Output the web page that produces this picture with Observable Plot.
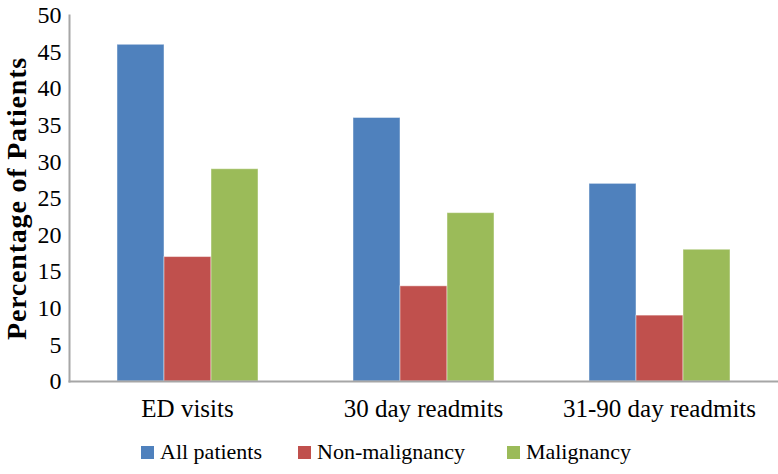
<!DOCTYPE html>
<html>
<head>
<meta charset="utf-8">
<script src="https://cdn.jsdelivr.net/npm/d3@7"></script>
<script src="https://cdn.jsdelivr.net/npm/@observablehq/plot@0.6"></script>
<style>
  html, body { margin: 0; padding: 0; background: #fff; }
  #chart { width: 778px; }
  .ylabel text { letter-spacing: 0.8px; }
  .legend { display: flex; justify-content: flex-start; align-items: center; height: 44px; font-family: "Liberation Serif", serif; font-size: 22px; color: #000; padding-left: 141px; }
  .legend .item { display: flex; align-items: center; }
  .legend .sw { width: 13px; height: 13px; margin-right: 6px; }
</style>
</head>
<body>
<div id="chart"></div>
<script>
const categories = ["ED visits", "30 day readmits", "31-90 day readmits"];
const series = ["All patients", "Non-malignancy", "Malignancy"];
const allPatients = [46, 36, 27];
const nonMalignancy = [17, 13, 9];
const malignancy = [29, 23, 18];
const yTicks = [0, 5, 10, 15, 20, 25, 30, 35, 40, 45, 50];
const colors = ["#4F81BD", "#C0504D", "#9BBB59"];
const yLabel = "Percentage of Patients";

const seriesValues = [allPatients, nonMalignancy, malignancy];
const data = [];
categories.forEach((c, i) => {
  series.forEach((s, j) => data.push({category: c, series: s, value: seriesValues[j][i]}));
});

const chart = Plot.plot({
  width: 778,
  height: 430,
  marginLeft: 68,
  marginRight: 0,
  marginTop: 15,
  marginBottom: 49,
  style: {fontFamily: "'Liberation Serif', serif", color: "#000", background: "#fff"},
  fx: {domain: categories, paddingInner: 0, paddingOuter: 0, label: null},
  x: {domain: series, paddingInner: 0, paddingOuter: 0.98, axis: null},
  y: {domain: [0, 50], label: null},
  color: {domain: series, range: colors},
  marks: [
    Plot.barY(data, {fx: "category", x: "series", y: "value", fill: "series", stroke: "#ffffff", strokeOpacity: 0.45, strokeWidth: 1}),
    Plot.frame({facet: "super", anchor: "bottom", stroke: "#A6A6A6", strokeWidth: 2}),
    Plot.frame({facet: "super", anchor: "left", stroke: "#A6A6A6", strokeWidth: 2}),
    Plot.axisY({ticks: yTicks, tickSize: 0, tickPadding: 8, fontSize: 24, label: null}),
    Plot.text([yLabel], {facet: "super", frameAnchor: "left", rotate: -90, dx: -52, fontSize: 28, fontWeight: "bold", textAnchor: "middle", className: "ylabel"}),
    Plot.axisFx({anchor: "bottom", tickSize: 0, tickPadding: 18, fontSize: 25, label: null})
  ]
});
document.getElementById("chart").appendChild(chart);

const legendGaps = [36, 42, 0];
const legend = d3.select("body").append("div").attr("class", "legend");
series.forEach((s, i) => {
  const item = legend.append("div").attr("class", "item").style("margin-right", legendGaps[i] + "px");
  item.append("div").attr("class", "sw").style("background", colors[i]);
  item.append("span").text(s);
});
</script>
</body>
</html>
